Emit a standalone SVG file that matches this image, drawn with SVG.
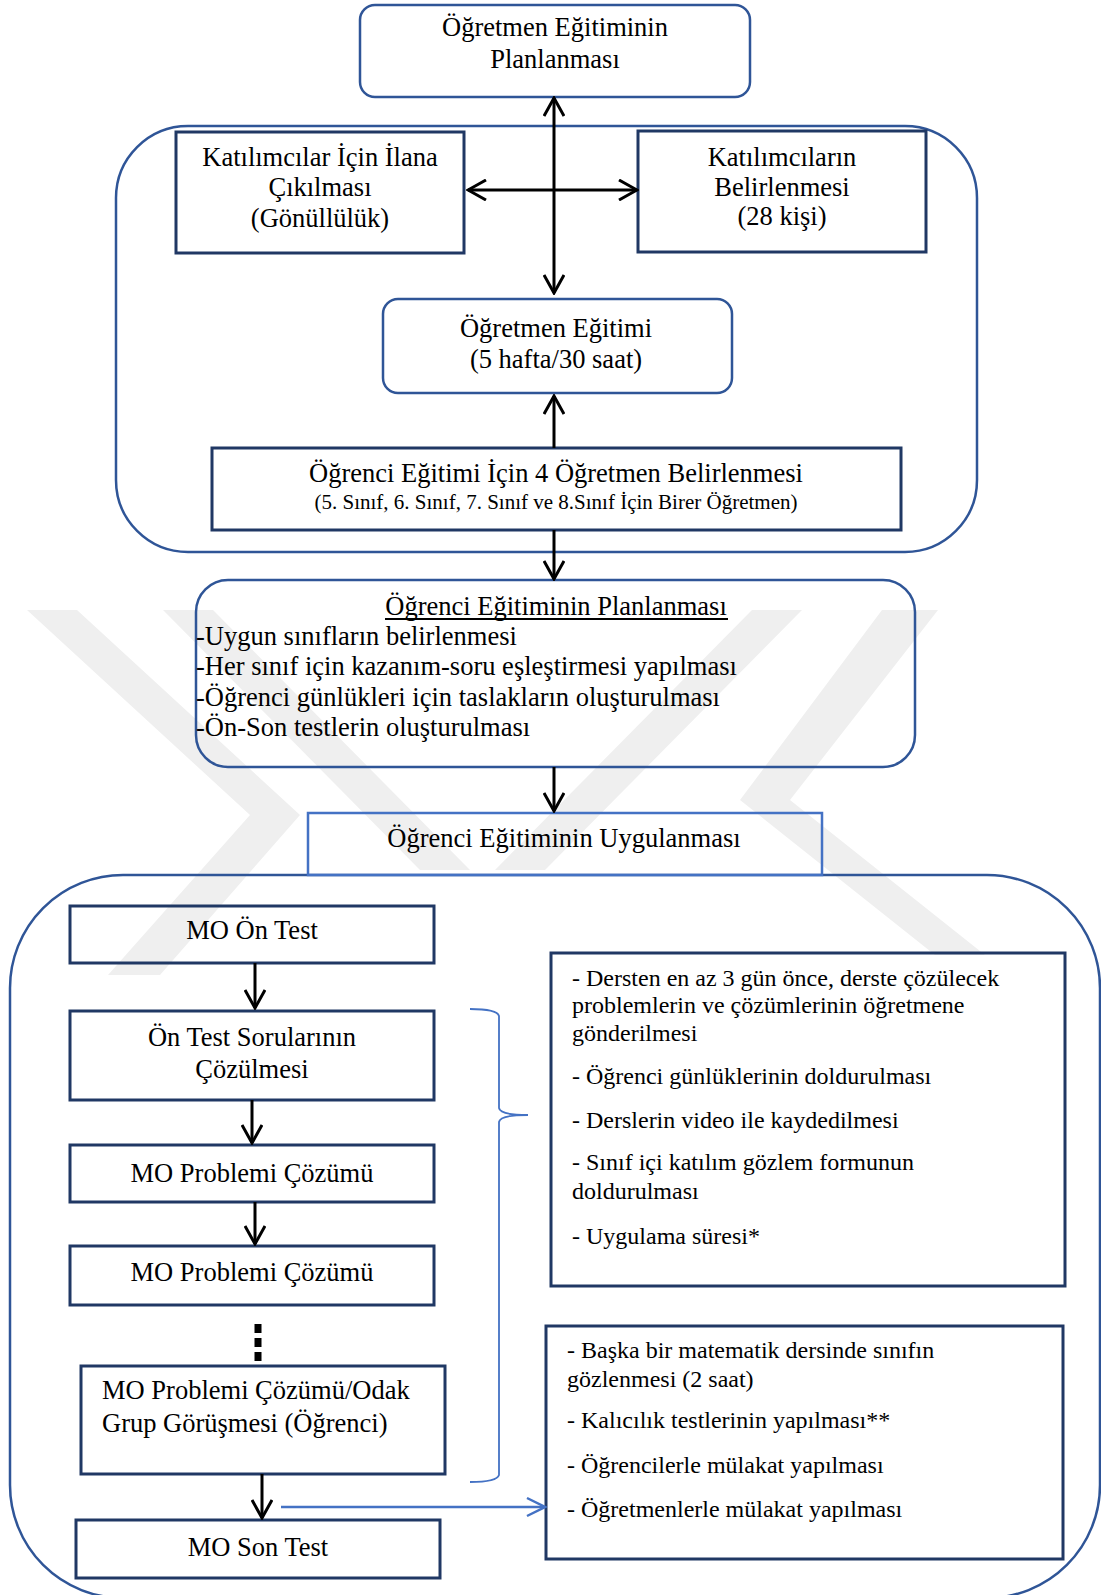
<svg xmlns="http://www.w3.org/2000/svg" width="1101" height="1595" viewBox="0 0 1101 1595">
<style>
.t{font-family:"Liberation Serif","Times New Roman",serif;font-size:26.5px;fill:#000}
.c{text-anchor:middle}
.s{font-size:21px}
.r{font-size:24px}
.rb{fill:none;stroke:#2F5597;stroke-width:2.5}
.bx{fill:none;stroke:#203864;stroke-width:3}
.ln{fill:none;stroke:#000;stroke-width:3}
.wm{fill:#efefef}
</style>
<defs>
<marker id="ah" viewBox="0 0 22 22" refX="20" refY="11" markerWidth="22" markerHeight="22" markerUnits="userSpaceOnUse" orient="auto-start-reverse">
<path d="M2,1 L20,11 L2,21" fill="none" stroke="#000" stroke-width="3"/>
</marker>
<marker id="ahb" viewBox="0 0 22 22" refX="20" refY="11" markerWidth="22" markerHeight="22" markerUnits="userSpaceOnUse" orient="auto">
<path d="M2,2 L20,11 L2,20" fill="none" stroke="#4472C4" stroke-width="2.5"/>
</marker>
</defs>
<rect width="1101" height="1595" fill="#fff"/>
<g id="watermark">
<polygon class="wm" points="27,610 77,610 300,815 160,975 108,975 250,815"/>
<polygon class="wm" points="163,610 213,610 470,870 420,870"/>
<polygon class="wm" points="752,610 802,610 545,870 495,870"/>
<polygon class="wm" points="882,610 938,610 790,800 985,955 935,955 740,800"/>
</g>
<g id="container1"><rect class="rb" x="116" y="126" width="861" height="426" rx="72"/></g>
<g id="container2"><rect class="rb" x="10" y="875" width="1090" height="723" rx="113"/></g>
<g id="n1"><rect class="rb" x="360" y="5" width="390" height="92" rx="15"/>
<text class="t c" x="555" y="36">Öğretmen Eğitiminin</text><text class="t c" x="555" y="68">Planlanması</text></g>
<g id="n2"><rect class="bx" x="176" y="132" width="288" height="121"/>
<text class="t c" x="320" y="166">Katılımcılar İçin İlana</text><text class="t c" x="320" y="196">Çıkılması</text><text class="t c" x="320" y="227">(Gönüllülük)</text></g>
<g id="n3"><rect class="bx" x="638" y="131" width="288" height="121"/>
<text class="t c" x="782" y="166">Katılımcıların</text><text class="t c" x="782" y="196">Belirlenmesi</text><text class="t c" x="782" y="225">(28 kişi)</text></g>
<g id="n4"><rect class="rb" x="383" y="299" width="349" height="94" rx="15"/>
<text class="t c" x="556" y="337">Öğretmen Eğitimi</text><text class="t c" x="556" y="368">(5 hafta/30 saat)</text></g>
<g id="n5"><rect class="bx" x="212" y="448" width="689" height="82"/>
<text class="t c" x="556" y="482">Öğrenci Eğitimi İçin 4 Öğretmen Belirlenmesi</text><text class="t c s" x="556" y="509">(5. Sınıf, 6. Sınıf, 7. Sınıf ve 8.Sınıf İçin Birer Öğretmen)</text></g>
<g id="n6"><rect class="rb" x="196" y="580" width="719" height="187" rx="32"/>
<text class="t c" x="556" y="615">Öğrenci Eğitiminin Planlanması</text>
<line x1="385" y1="619" x2="728" y2="619" stroke="#000" stroke-width="2"/>
<text class="t" x="196" y="645">-Uygun sınıfların belirlenmesi</text>
<text class="t" x="196" y="675">-Her sınıf için kazanım-soru eşleştirmesi yapılması</text>
<text class="t" x="196" y="706">-Öğrenci günlükleri için taslakların oluşturulması</text>
<text class="t" x="196" y="736">-Ön-Son testlerin oluşturulması</text></g>
<g id="n7"><rect x="308" y="813" width="514" height="62" fill="none" stroke="#4472C4" stroke-width="2.5"/>
<text class="t c" x="564" y="847">Öğrenci Eğitiminin Uygulanması</text></g>
<g id="n8"><rect class="bx" x="70" y="906" width="364" height="57"/><text class="t c" x="252" y="939">MO Ön Test</text></g>
<g id="n9"><rect class="bx" x="70" y="1011" width="364" height="89"/><text class="t c" x="252" y="1046">Ön Test Sorularının</text><text class="t c" x="252" y="1078">Çözülmesi</text></g>
<g id="n10"><rect class="bx" x="70" y="1145" width="364" height="57"/><text class="t c" x="252" y="1182">MO Problemi Çözümü</text></g>
<g id="n11"><rect class="bx" x="70" y="1246" width="364" height="59"/><text class="t c" x="252" y="1281">MO Problemi Çözümü</text></g>
<g id="n12"><rect class="bx" x="81" y="1366" width="364" height="108"/><text class="t" x="102" y="1399">MO Problemi Çözümü/Odak</text><text class="t" x="102" y="1432">Grup Görüşmesi (Öğrenci)</text></g>
<g id="n13"><rect class="bx" x="76" y="1520" width="364" height="58"/><text class="t c" x="258" y="1556">MO Son Test</text></g>
<g id="n14"><rect class="bx" x="551" y="953" width="514" height="333"/>
<text class="t r" x="572" y="986">- Dersten en az 3 gün önce, derste çözülecek</text>
<text class="t r" x="572" y="1013">problemlerin ve çözümlerinin öğretmene</text>
<text class="t r" x="572" y="1041">gönderilmesi</text>
<text class="t r" x="572" y="1084">- Öğrenci günlüklerinin doldurulması</text>
<text class="t r" x="572" y="1128">- Derslerin video ile kaydedilmesi</text>
<text class="t r" x="572" y="1170">- Sınıf içi katılım gözlem formunun</text>
<text class="t r" x="572" y="1199">doldurulması</text>
<text class="t r" x="572" y="1244">- Uygulama süresi*</text></g>
<g id="n15"><rect class="bx" x="546" y="1326" width="517" height="233"/>
<text class="t r" x="567" y="1358">- Başka bir matematik dersinde sınıfın</text>
<text class="t r" x="567" y="1387">gözlenmesi (2 saat)</text>
<text class="t r" x="567" y="1428">- Kalıcılık testlerinin yapılması**</text>
<text class="t r" x="567" y="1473">- Öğrencilerle mülakat yapılması</text>
<text class="t r" x="567" y="1517">- Öğretmenlerle mülakat yapılması</text></g>
<g id="connectors">
<line class="ln" x1="554" y1="98" x2="554" y2="293" marker-start="url(#ah)" marker-end="url(#ah)"/>
<line class="ln" x1="468" y1="190" x2="637" y2="190" marker-start="url(#ah)" marker-end="url(#ah)"/>
<line class="ln" x1="554" y1="448" x2="554" y2="396" marker-end="url(#ah)"/>
<line class="ln" x1="554" y1="530" x2="554" y2="579" marker-end="url(#ah)"/>
<line class="ln" x1="554" y1="767" x2="554" y2="811" marker-end="url(#ah)"/>
<line class="ln" x1="255" y1="963" x2="255" y2="1008" marker-end="url(#ah)"/>
<line class="ln" x1="252" y1="1100" x2="252" y2="1143" marker-end="url(#ah)"/>
<line class="ln" x1="255" y1="1202" x2="255" y2="1244" marker-end="url(#ah)"/>
<line x1="258" y1="1324" x2="258" y2="1362" stroke="#000" stroke-width="7" stroke-dasharray="9,5"/>
<line class="ln" x1="262" y1="1474" x2="262" y2="1518" marker-end="url(#ah)"/>
<line x1="281" y1="1507" x2="545" y2="1507" stroke="#4472C4" stroke-width="2.5" marker-end="url(#ahb)"/>
<path d="M470,1009 Q497,1009 499,1016 L499,1108 Q500,1115 528,1115 Q500,1115 499,1122 L499,1475 Q497,1482 470,1482" fill="none" stroke="#4472C4" stroke-width="1.8"/>
</g>
</svg>
